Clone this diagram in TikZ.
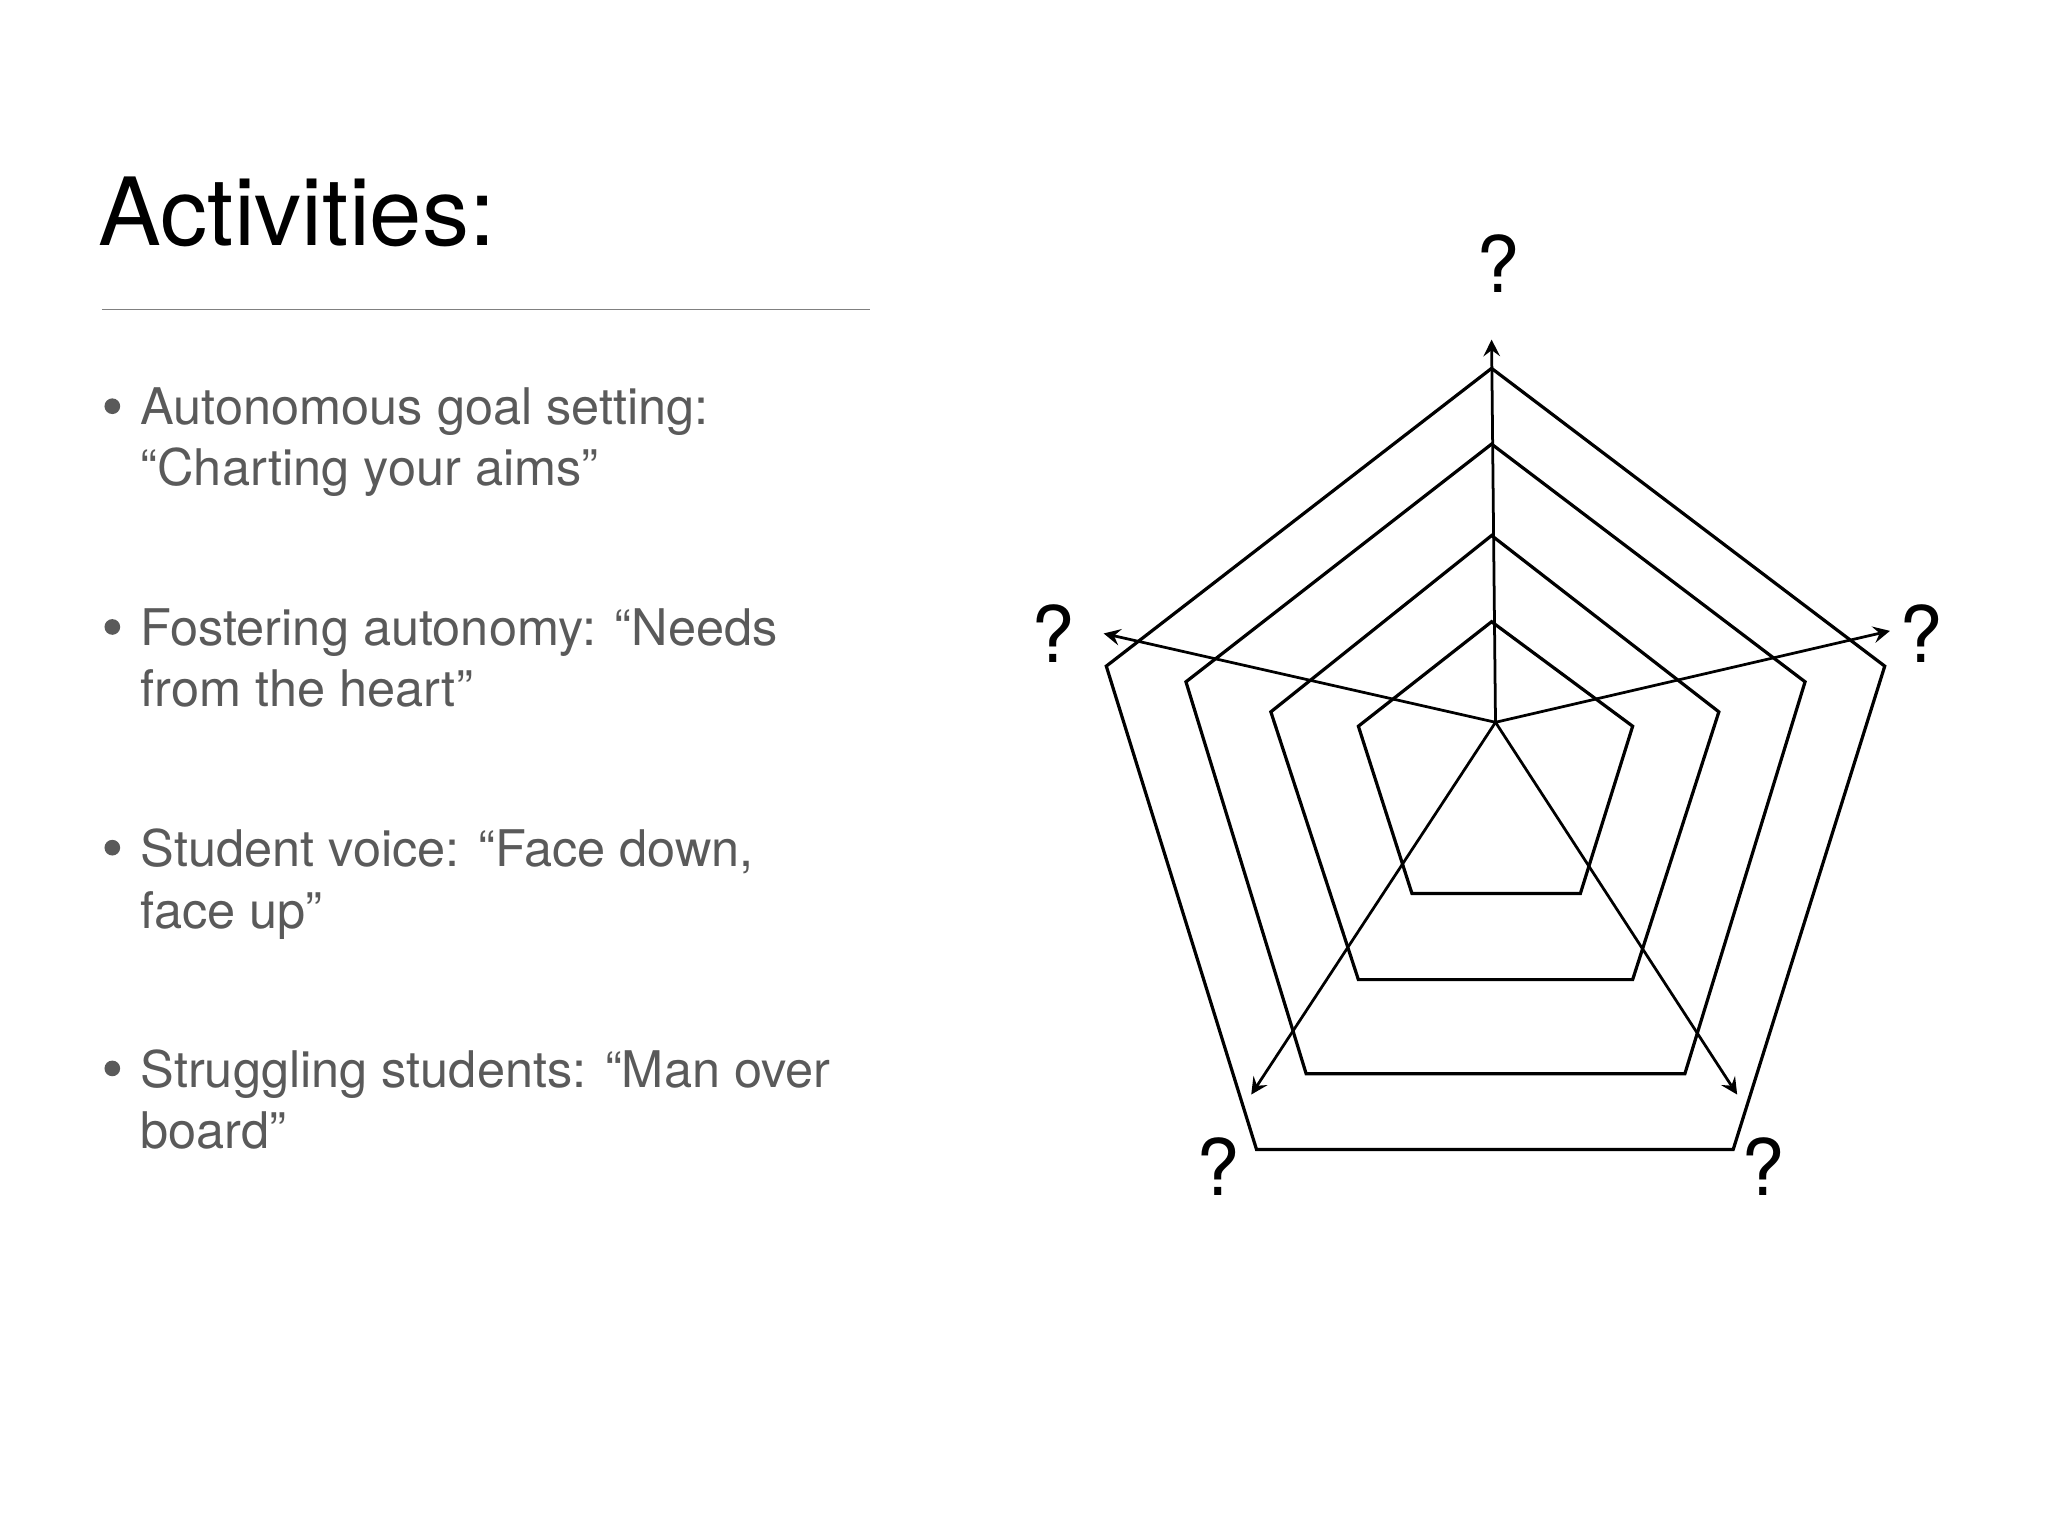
\documentclass[tikz,border=0pt]{standalone}
\usepackage{fontspec}
\setmainfont{TeX Gyre Heros}
\definecolor{txt}{HTML}{5A5A5A}
\begin{document}
\begin{tikzpicture}[x=0.1mm,y=-0.1mm,
  pent/.style={line width=0.7pt,line join=miter},
  axis/.style={line width=0.6pt,-stealth},
  qm/.style={font=\fontsize{17}{20}\selectfont},
  item/.style={anchor=north west,align=left,text=txt,font=\fontsize{11}{13.4}\selectfont,inner sep=0pt}]
\useasboundingbox (0,0) rectangle (1568,1176);
\node[anchor=base west,inner sep=0pt,font=\fontsize{20.5}{24}\selectfont] (title) at (75,188) {Activities:};
\draw[gray,line width=0.4pt] (78,237) coordinate (r1) -- (666,237) coordinate (r2);
\foreach \y/\t [count=\i] in {296/{Autonomous goal setting:\\“Charting your aims”},465/{Fostering autonomy: “Needs\\from the heart”},634/{Student voice: “Face down,\\face up”},803/{Struggling students: “Man over\\board”}}{
  \fill[txt] (86,\y+15) circle (6);
  \node[item] (it\i) at (107,\y) {\t};
}
\draw[pent] (1142,282)--(1443,510)--(1327,880)--(962,880)--(847,510)--cycle;
\draw[pent] (1142,340)--(1382,522)--(1290,822)--(1000,822)--(908,522)--cycle;
\draw[pent] (1142,410)--(1316,545)--(1250,750)--(1040,750)--(973,545)--cycle;
\draw[pent] (1142,476)--(1250,556)--(1210,684)--(1081,684)--(1040,556)--cycle;
\coordinate (o) at (1145,553);
\coordinate (a1) at (1142,260);
\coordinate (a2) at (1447,483);
\coordinate (a3) at (1330,838);
\coordinate (a4) at (958,838);
\coordinate (a5) at (845,485);
\foreach \a in {a1,a2,a3,a4,a5} \draw[axis] (o) -- (\a);
\node[qm] (q1) at (1147,202) {?};
\node[qm] (q2) at (1471,485) {?};
\node[qm] (q3) at (1350,893) {?};
\node[qm] (q4) at (933,893) {?};
\node[qm] (q5) at (806,485) {?};
\end{tikzpicture}
\end{document}
